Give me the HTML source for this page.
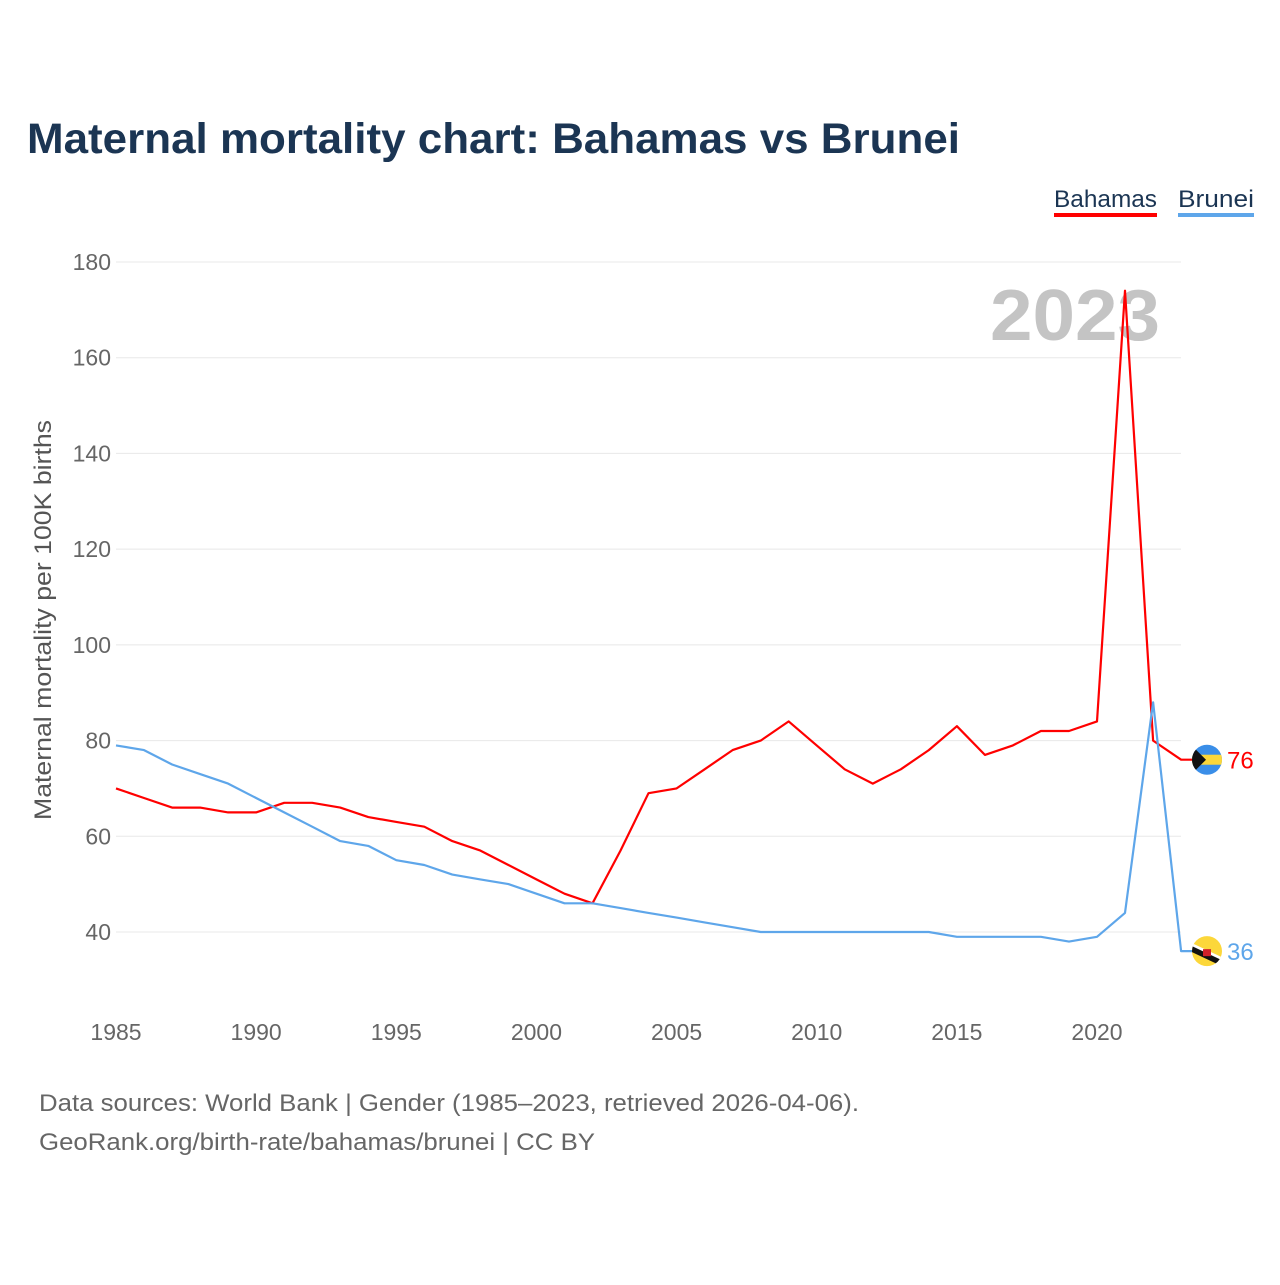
<!DOCTYPE html>
<html><head><meta charset="utf-8"><style>
body{margin:0;background:#fff;width:1280px;height:1280px;overflow:hidden;font-family:"Liberation Sans",sans-serif}
</style></head><body>
<svg width="1280" height="1280" xmlns="http://www.w3.org/2000/svg">
<text x="27" y="153" font-size="43" font-weight="bold" fill="#1b3553" textLength="933" lengthAdjust="spacingAndGlyphs">Maternal mortality chart: Bahamas vs Brunei</text>
<g>
<text x="1054" y="207" font-size="24" fill="#1b3553" textLength="103" lengthAdjust="spacingAndGlyphs">Bahamas</text>
<rect x="1054" y="213" width="103" height="4" fill="#ff0000"/>
<text x="1178" y="207" font-size="24" fill="#1b3553" textLength="76" lengthAdjust="spacingAndGlyphs">Brunei</text>
<rect x="1178" y="213" width="76" height="4" fill="#5ea6ea"/>
</g>
<g id="grid"></g>
<g id="yticks"></g>
<g id="xticks"></g>
<text x="1160" y="340" font-size="72" font-weight="bold" fill="#c4c4c4" text-anchor="end" textLength="170" lengthAdjust="spacingAndGlyphs">2023</text>
<text transform="translate(51,620) rotate(-90)" font-size="24" fill="#555" text-anchor="middle" textLength="400" lengthAdjust="spacingAndGlyphs">Maternal mortality per 100K births</text>
<g id="series"></g>
<text x="39" y="1111" font-size="24" fill="#666" textLength="820" lengthAdjust="spacingAndGlyphs">Data sources: World Bank | Gender (1985–2023, retrieved 2026-04-06).</text>
<text x="39" y="1150" font-size="24" fill="#666" textLength="556" lengthAdjust="spacingAndGlyphs">GeoRank.org/birth-rate/bahamas/brunei | CC BY</text>
</svg>
<script>
const years=[];for(let y=1985;y<=2023;y++)years.push(y);
const bahamas=[70,68,66,66,65,65,67,67,66,64,63,62,59,57,54,51,48,46,57,69,70,74,78,80,84,79,74,71,74,78,83,77,79,82,82,84,174,80,76];
const brunei=[79,78,75,73,71,68,65,62,59,58,55,54,52,51,50,48,46,46,45,44,43,42,41,40,40,40,40,40,40,40,39,39,39,39,38,39,44,88,36];
const yTicks=[40,60,80,100,120,140,160,180];
const xTicks=[1985,1990,1995,2000,2005,2010,2015,2020];
const NS="http://www.w3.org/2000/svg";
const X=y=>116+(y-1985)*(1097-116)/35;
const Y=v=>932-(v-40)*(932-262)/140;
function mk(t,a,p){const e=document.createElementNS(NS,t);for(const k in a)e.setAttribute(k,a[k]);p.appendChild(e);return e;}
const grid=document.getElementById('grid'),yt=document.getElementById('yticks'),xt=document.getElementById('xticks'),ser=document.getElementById('series');
yTicks.forEach(v=>{
 const l=mk('line',{x1:116,x2:1181,y1:Y(v),y2:Y(v),stroke:'#e8e8e8','stroke-width':1},grid);
 
 
 const t=mk('text',{x:111,y:Y(v)+8,'font-size':23,fill:'#666','text-anchor':'end'},yt);t.textContent=v;
 
 
});
xTicks.forEach(v=>{
 const t=mk('text',{x:X(v),y:1040,'font-size':23,fill:'#666','text-anchor':'middle'},xt);t.textContent=v;
 
 
});
function line(d,c,name){
 let p=d.map((v,i)=>(i?'L':'M')+X(years[i]).toFixed(1)+' '+Y(v).toFixed(1)).join(' ');
 const last=d[d.length-1];p+=' L'+(X(2023)+12)+' '+Y(last).toFixed(1);
 const e=mk('path',{d:p,fill:'none',stroke:c,'stroke-width':2.2,'stroke-linejoin':'round'},ser);
 
 
 const lb=mk('text',{x:1227,y:Y(last)+9,'font-size':24,fill:c},ser);lb.textContent=last;
 
 
 return Y(last);
}
const yb=line(bahamas,'#ff0000','bahamas');
const yr=line(brunei,'#5ea6ea','brunei');
const fb=mk('g',{},ser);


fb.innerHTML=`<defs><clipPath id="cb"><circle cx="1207" cy="${yb}" r="15"/></clipPath><clipPath id="cr"><circle cx="1207" cy="${yr}" r="15"/></clipPath></defs>
<g clip-path="url(#cb)"><rect x="1190" y="${yb-16}" width="34" height="32" fill="#3a8ee8"/><rect x="1190" y="${yb-5}" width="34" height="10" fill="#fcd73a"/><polygon points="1190,${yb-16} 1206,${yb} 1190,${yb+16}" fill="#111"/></g>`;
const fr=mk('g',{},ser);


fr.innerHTML=`<g clip-path="url(#cr)"><rect x="1190" y="${yr-16}" width="34" height="32" fill="#fcd73a"/><polygon points="1190,${yr-9} 1190,${yr-3} 1224,${yr+13} 1224,${yr+7}" fill="#fff"/><polygon points="1190,${yr-6} 1190,${yr} 1224,${yr+16} 1224,${yr+10}" fill="#111"/><rect x="1203" y="${yr-2}" width="8" height="7" fill="#d0202a"/></g>`;
</script>
</body></html>
